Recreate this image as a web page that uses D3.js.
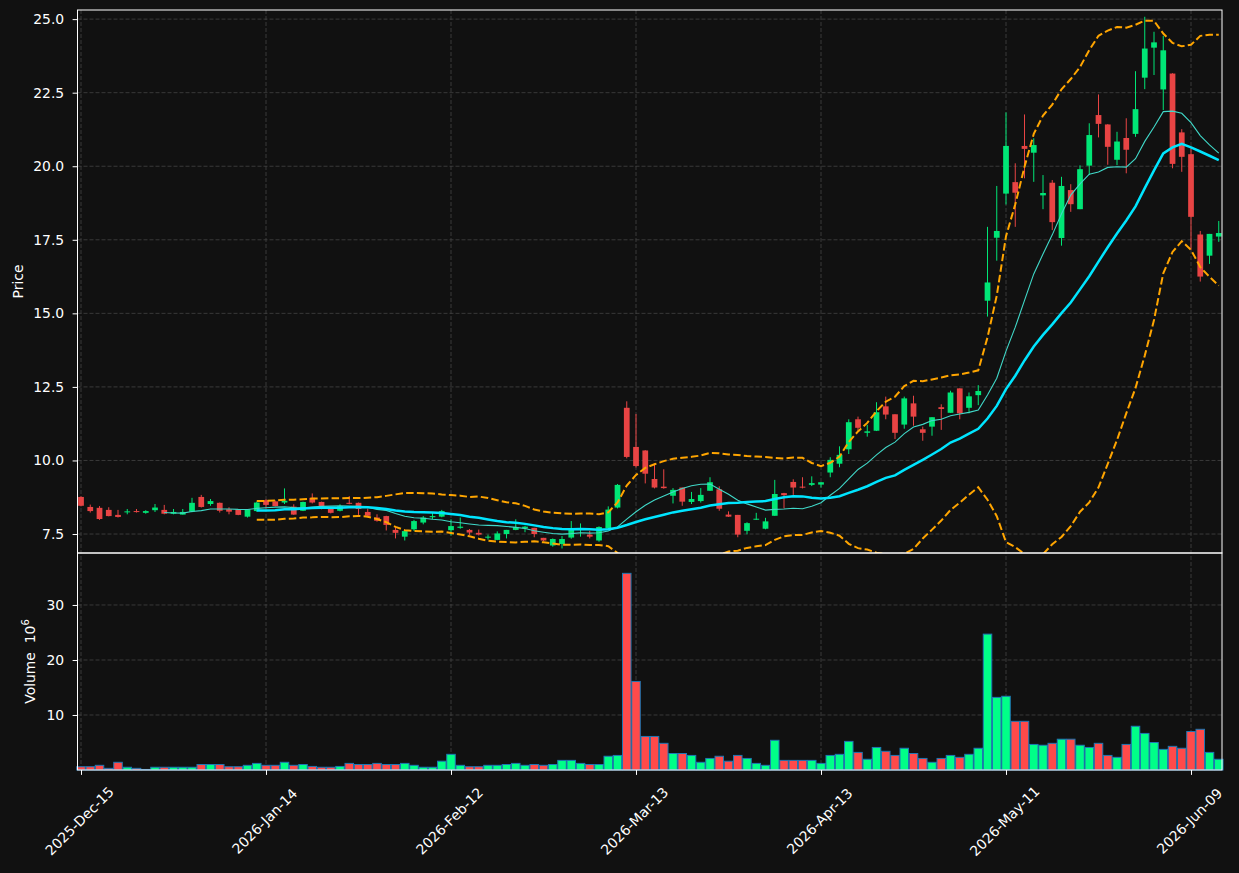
<!DOCTYPE html>
<html>
<head>
<meta charset="utf-8">
<script src="https://cdn.jsdelivr.net/npm/d3@7"></script>
<style>
  body { margin: 0; background: #111111; }
  svg { display: block; font-family: "DejaVu Sans", sans-serif; }
</style>
</head>
<body>
<svg width="1239" height="873"></svg>
<script>
// trading days (US calendar)
var dates = ("2025-12-15 2025-12-16 2025-12-17 2025-12-18 2025-12-19 2025-12-22 2025-12-23 2025-12-24 2025-12-26 2025-12-29 2025-12-30 2025-12-31 " +
  "2026-01-02 2026-01-05 2026-01-06 2026-01-07 2026-01-08 2026-01-09 2026-01-12 2026-01-13 2026-01-14 2026-01-15 2026-01-16 " +
  "2026-01-20 2026-01-21 2026-01-22 2026-01-23 2026-01-26 2026-01-27 2026-01-28 2026-01-29 2026-01-30 " +
  "2026-02-02 2026-02-03 2026-02-04 2026-02-05 2026-02-06 2026-02-09 2026-02-10 2026-02-11 2026-02-12 2026-02-13 " +
  "2026-02-17 2026-02-18 2026-02-19 2026-02-20 2026-02-23 2026-02-24 2026-02-25 2026-02-26 2026-02-27 " +
  "2026-03-02 2026-03-03 2026-03-04 2026-03-05 2026-03-06 2026-03-09 2026-03-10 2026-03-11 2026-03-12 2026-03-13 " +
  "2026-03-16 2026-03-17 2026-03-18 2026-03-19 2026-03-20 2026-03-23 2026-03-24 2026-03-25 2026-03-26 2026-03-27 " +
  "2026-03-30 2026-03-31 2026-04-01 2026-04-02 2026-04-06 2026-04-07 2026-04-08 2026-04-09 2026-04-10 " +
  "2026-04-13 2026-04-14 2026-04-15 2026-04-16 2026-04-17 2026-04-20 2026-04-21 2026-04-22 2026-04-23 2026-04-24 " +
  "2026-04-27 2026-04-28 2026-04-29 2026-04-30 2026-05-01 2026-05-04 2026-05-05 2026-05-06 2026-05-07 2026-05-08 " +
  "2026-05-11 2026-05-12 2026-05-13 2026-05-14 2026-05-15 2026-05-18 2026-05-19 2026-05-20 2026-05-21 2026-05-22 " +
  "2026-05-26 2026-05-27 2026-05-28 2026-05-29 2026-06-01 2026-06-02 2026-06-03 2026-06-04 2026-06-05 " +
  "2026-06-08 2026-06-09 2026-06-10 2026-06-11 2026-06-12").split(" ");

var opens = [8.76,8.42,8.39,8.32,8.15,8.24,8.28,8.22,8.31,8.32,8.19,8.16,8.26,8.76,8.52,8.56,8.34,8.33,8.09,8.28,
  8.65,8.61,8.57,8.43,8.29,8.73,8.59,8.37,8.29,8.56,8.56,8.25,8.06,8.11,7.64,7.41,7.66,7.89,8.07,8.09,
  7.63,7.71,7.64,7.54,7.38,7.30,7.50,7.64,7.69,7.71,7.37,7.11,7.16,7.38,7.64,7.48,7.28,7.69,8.40,11.79,
  10.46,10.34,9.37,9.11,8.80,9.08,8.59,8.62,8.97,9.02,8.16,8.15,7.61,7.99,7.68,8.12,8.89,9.27,9.11,9.17,
  9.18,9.59,9.89,10.38,11.40,10.94,11.01,11.84,11.57,11.22,11.94,11.06,11.15,11.81,11.62,12.45,11.79,12.22,15.43,17.57,
  19.07,19.46,20.69,20.46,19.01,19.44,17.56,19.19,18.54,20.02,21.74,21.42,20.22,20.96,21.10,23.01,24.03,22.61,23.15,21.15,
  20.41,17.68,16.96,17.61];
var highs = [8.78,8.50,8.45,8.41,8.32,8.35,8.35,8.31,8.52,8.49,8.35,8.35,8.73,8.83,8.69,8.57,8.41,8.34,8.35,8.60,
  8.68,8.64,9.05,8.51,8.60,8.88,8.60,8.39,8.51,8.79,8.57,8.37,8.17,8.12,7.75,7.61,7.98,8.11,8.24,8.32,
  8.00,8.06,7.67,7.65,7.48,7.59,7.64,8.00,7.78,7.71,7.37,7.35,7.43,7.94,7.86,7.61,7.76,8.44,9.20,12.01,
  11.58,10.35,9.90,9.70,9.06,9.08,8.93,9.06,9.43,9.12,8.27,8.15,7.90,8.22,8.05,9.34,8.90,9.36,9.43,9.46,
  9.26,10.11,10.48,11.40,11.49,11.21,11.98,12.17,11.57,12.17,12.20,11.15,11.47,11.91,12.37,12.45,12.31,12.56,17.94,19.33,
  21.83,20.10,21.76,20.95,19.70,19.53,19.64,19.39,20.03,21.46,22.44,21.43,21.17,21.63,23.23,25.08,24.57,24.43,23.16,21.26,
  20.61,17.80,17.70,18.14];
var lows = [8.44,8.23,7.98,8.10,8.06,8.17,8.23,8.19,8.25,8.17,8.17,8.16,8.24,8.40,8.46,8.23,8.17,8.14,8.06,8.26,
  8.37,8.44,8.52,8.15,8.28,8.54,8.34,8.20,8.27,8.51,8.15,8.07,7.92,7.62,7.35,7.28,7.60,7.83,8.01,8.07,
  7.45,7.68,7.47,7.45,7.31,7.29,7.35,7.63,7.56,7.39,7.26,7.07,7.01,7.34,7.41,7.35,7.24,7.68,8.37,10.07,
  9.76,9.22,9.05,9.04,8.54,8.46,8.52,8.57,8.97,8.29,8.08,7.39,7.49,7.98,7.66,8.12,8.37,8.83,9.05,9.13,
  9.08,9.43,9.77,10.22,11.00,10.81,11.00,11.40,10.73,11.08,11.18,10.67,10.84,11.04,11.62,11.40,11.60,11.88,14.89,16.79,
  18.70,17.94,19.59,19.47,18.54,17.83,17.30,18.45,18.54,19.70,20.98,20.05,20.04,19.76,21.00,22.62,23.10,21.91,19.93,19.81,
  17.15,16.08,16.68,17.43];
var closes = [8.46,8.28,8.01,8.11,8.08,8.27,8.25,8.28,8.40,8.19,8.25,8.25,8.56,8.42,8.62,8.29,8.26,8.15,8.34,8.57,
  8.49,8.45,8.63,8.16,8.59,8.57,8.45,8.22,8.45,8.53,8.35,8.12,7.95,7.81,7.54,7.60,7.94,8.06,8.11,8.28,
  7.77,7.75,7.55,7.48,7.41,7.52,7.64,7.74,7.75,7.50,7.28,7.33,7.33,7.65,7.68,7.41,7.74,8.33,9.17,10.12,
  9.81,9.55,9.08,9.06,9.00,8.60,8.69,8.83,9.26,8.36,8.09,7.48,7.87,8.02,7.93,8.86,8.82,9.08,9.08,9.23,
  9.26,10.02,10.19,11.30,11.11,10.99,11.64,11.56,10.94,12.11,11.49,10.94,11.47,11.75,12.31,11.60,12.18,12.36,16.05,17.80,
  20.69,19.10,20.59,20.72,19.09,18.10,19.33,18.71,19.90,21.06,21.44,20.66,20.84,20.56,21.94,24.00,24.21,23.94,20.08,20.32,
  18.28,16.25,17.70,17.73];
// volume in millions
var volumes = [0.6,0.6,0.85,0.3,1.4,0.5,0.3,0.1,0.5,0.5,0.5,0.5,0.5,1.0,1.0,1.0,0.6,0.6,0.85,1.2,
  0.85,0.85,1.4,0.85,1.0,0.65,0.5,0.5,0.65,1.2,1.0,1.0,1.2,1.0,1.0,1.2,0.85,0.5,0.5,1.6,
  2.85,0.85,0.6,0.6,0.85,0.85,1.0,1.2,0.85,1.0,0.85,1.0,1.75,1.75,1.2,1.0,1.0,2.5,2.65,35.75,
  16.1,6.1,6.1,4.85,3.0,3.0,2.65,1.4,2.1,2.5,1.6,2.65,2.1,1.2,0.85,5.4,1.75,1.75,1.75,1.75,
  1.2,2.65,2.85,5.2,3.2,1.95,4.1,3.4,2.65,3.95,3.0,2.1,1.4,2.1,2.65,2.3,2.85,3.95,24.7,13.2,
  13.4,8.85,8.85,4.65,4.5,4.85,5.6,5.6,4.5,4.1,4.85,2.65,2.3,4.65,7.95,6.65,5.0,3.75,4.3,3.95,
  7.0,7.4,3.2,1.95];

var priceTicks = [7.5, 10.0, 12.5, 15.0, 17.5, 20.0, 22.5, 25.0];
var volTicks = [10, 20, 30];
var tickEvery = 20;

var upColor = "#00e676", downColor = "#e84444";
var upVol = "#00ff88", downVol = "#ff4a4a";
var gridColor = "#444444";

var svg = d3.select("svg");
var left = 77.5, right = 1222, pTop = 10, pBot = 553, vBot = 770;

var x = d3.scaleLinear().domain([-0.38, 123.35]).range([left, right]);
var yP = d3.scaleLinear().domain([6.855, 25.31]).range([pBot, pTop]);
var yV = d3.scaleLinear().domain([0, 39.45]).range([vBot, pBot]);
var step = x(1) - x(0);

var idx = d3.range(dates.length);
var xTicks = idx.filter(i => i % tickEvery === 0);
var parse = d3.timeParse("%Y-%m-%d"), fmt = d3.timeFormat("%Y-%b-%d");

svg.append("rect").attr("width", 1239).attr("height", 873).attr("fill", "#111111");

svg.append("defs").append("clipPath").attr("id", "pclip")
  .append("rect").attr("x", left).attr("y", pTop).attr("width", right - left).attr("height", pBot - pTop);

// grids
var grid = svg.append("g").attr("stroke", gridColor).attr("stroke-width", 0.8).attr("stroke-dasharray", "4,2");
grid.selectAll(".gx").data(xTicks).enter().append("line")
  .attr("x1", d => x(d)).attr("x2", d => x(d)).attr("y1", pTop).attr("y2", vBot);
grid.selectAll(".gp").data(priceTicks).enter().append("line")
  .attr("x1", left).attr("x2", right).attr("y1", d => yP(d)).attr("y2", d => yP(d));
grid.selectAll(".gv").data(volTicks).enter().append("line")
  .attr("x1", left).attr("x2", right).attr("y1", d => yV(d)).attr("y2", d => yV(d));

// candles
var isUp = i => closes[i] >= opens[i];
var pg = svg.append("g").attr("clip-path", "url(#pclip)");
var bw = step * 0.62;
pg.selectAll(".wick").data(idx).enter().append("line")
  .attr("x1", i => x(i)).attr("x2", i => x(i))
  .attr("y1", i => yP(highs[i])).attr("y2", i => yP(lows[i]))
  .attr("stroke", i => isUp(i) ? upColor : downColor).attr("stroke-width", 1);
pg.selectAll(".body").data(idx).enter().append("rect")
  .attr("x", i => x(i) - bw / 2).attr("width", bw)
  .attr("y", i => yP(Math.max(opens[i], closes[i])))
  .attr("height", i => Math.max(1, Math.abs(yP(opens[i]) - yP(closes[i]))))
  .attr("fill", i => isUp(i) ? upColor : downColor);

// moving averages and bollinger bands (population std) from the closes
function sma(n) {
  return closes.map((v, i) => i < n - 1 ? null : d3.mean(closes.slice(i - n + 1, i + 1)));
}
var ma10 = sma(10), ma20 = sma(20);
var sd20 = closes.map((v, i) => {
  if (i < 19) return null;
  var w = closes.slice(i - 19, i + 1), m = d3.mean(w);
  return Math.sqrt(d3.mean(w, c => (c - m) * (c - m)));
});
var upper = ma20.map((m, i) => m == null ? null : m + 2 * sd20[i]);
var lower = ma20.map((m, i) => m == null ? null : m - 2 * sd20[i]);

var line = arr => d3.line().defined(i => arr[i] != null).x(i => x(i)).y(i => yP(arr[i]))(idx);
pg.append("path").attr("d", line(ma10)).attr("fill", "none").attr("stroke", "#40d8c8").attr("stroke-width", 1.1);
pg.append("path").attr("d", line(ma20)).attr("fill", "none").attr("stroke", "#00e5ff").attr("stroke-width", 2.5);
[upper, lower].forEach(b => {
  pg.append("path").attr("d", line(b)).attr("fill", "none").attr("stroke", "#ffa500")
    .attr("stroke-width", 2).attr("stroke-dasharray", "7.5,3.2");
});

// volume
var vw = step * 0.92;
svg.append("g").selectAll("rect").data(idx).enter().append("rect")
  .attr("x", i => x(i) - vw / 2).attr("width", vw)
  .attr("y", i => yV(volumes[i])).attr("height", i => yV(0) - yV(volumes[i]))
  .attr("fill", i => isUp(i) ? upVol : downVol)
  .attr("stroke", "#1f77b4").attr("stroke-width", 1);

// axes
function styleAxis(g) {
  g.select(".domain").remove();
  g.selectAll("line").attr("stroke", "#ffffff");
  g.selectAll("text").attr("fill", "#ffffff").attr("font-size", 13.9).attr("font-family", "DejaVu Sans");
}
svg.append("g").attr("transform", "translate(" + left + ",0)")
  .call(d3.axisLeft(yP).tickValues(priceTicks).tickFormat(d3.format(".1f")).tickSize(4.9).tickPadding(8.4))
  .call(styleAxis);
svg.append("g").attr("transform", "translate(" + left + ",0)")
  .call(d3.axisLeft(yV).tickValues(volTicks).tickSize(4.9).tickPadding(8.4))
  .call(styleAxis);
var xa = svg.append("g").attr("transform", "translate(0," + vBot + ")")
  .call(d3.axisBottom(x).tickValues(xTicks).tickFormat(i => fmt(parse(dates[i]))).tickSize(4.9))
  .call(styleAxis);
xa.selectAll("text")
  .attr("text-anchor", "middle").attr("dy", null).attr("y", null)
  .attr("dominant-baseline", "central")
  .attr("transform", "translate(-2,51) rotate(-45)");

// panel frames
[[pTop, pBot], [pBot, vBot]].forEach(p => {
  svg.append("rect").attr("x", left).attr("y", p[0]).attr("width", right - left).attr("height", p[1] - p[0])
    .attr("fill", "none").attr("stroke", "#ffffff").attr("stroke-width", 1);
});

// axis labels
svg.append("text").attr("transform", "translate(23," + (pTop + pBot) / 2 + ") rotate(-90)")
  .attr("text-anchor", "middle").attr("fill", "#ffffff").attr("font-size", 13.9).text("Price");
var vl = svg.append("text").attr("transform", "translate(35," + (pBot + vBot) / 2 + ") rotate(-90)")
  .attr("text-anchor", "middle").attr("fill", "#ffffff").attr("font-size", 13.9);
vl.append("tspan").text("Volume\u00a0\u00a010");
vl.append("tspan").attr("dy", -6).attr("font-size", 10).text("6");
</script>
</body>
</html>
